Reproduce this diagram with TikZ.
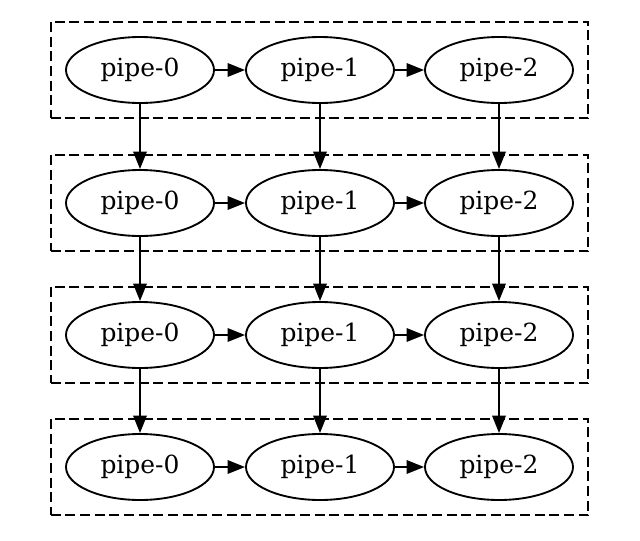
\documentclass[tikz,border=0pt]{standalone}
\usepackage{fontspec}
\setmainfont{DejaVu Serif}
\usetikzlibrary{arrows.meta,fit,shapes.geometric}
\begin{document}
\begin{tikzpicture}[x=0.75pt,y=-0.75pt,
  pipe/.style={draw,ellipse,line width=1.4pt,minimum width=111pt,minimum height=49.5pt,inner sep=0pt,font=\fontsize{18.7}{22}\selectfont},
  conn/.style={line width=1.4pt,-{Triangle[length=13pt,width=10pt]}},
  cluster/.style={draw,line width=1.5pt,dash pattern=on 7.5pt off 3.5pt,inner sep=10.9pt}]
\useasboundingbox (0,0) rectangle (640,540);
\foreach \r/\y in {0/70,1/203,2/335,3/467}{
  \node[pipe] (a\r) at (140,\y) {pipe-0};
  \node[pipe] (b\r) at (320,\y) {pipe-1};
  \node[pipe] (c\r) at (499,\y) {pipe-2};
  \node[cluster,fit=(a\r)(c\r)] (box\r) {};
  \draw[conn] (a\r) -- (b\r);
  \draw[conn] (b\r) -- (c\r);
}
\foreach \r/\s in {0/1,1/2,2/3}{
  \draw[conn] (a\r.south) -- (a\s.north);
  \draw[conn] (b\r.south) -- (b\s.north);
  \draw[conn] (c\r.south) -- (c\s.north);
}
\end{tikzpicture}
\end{document}
